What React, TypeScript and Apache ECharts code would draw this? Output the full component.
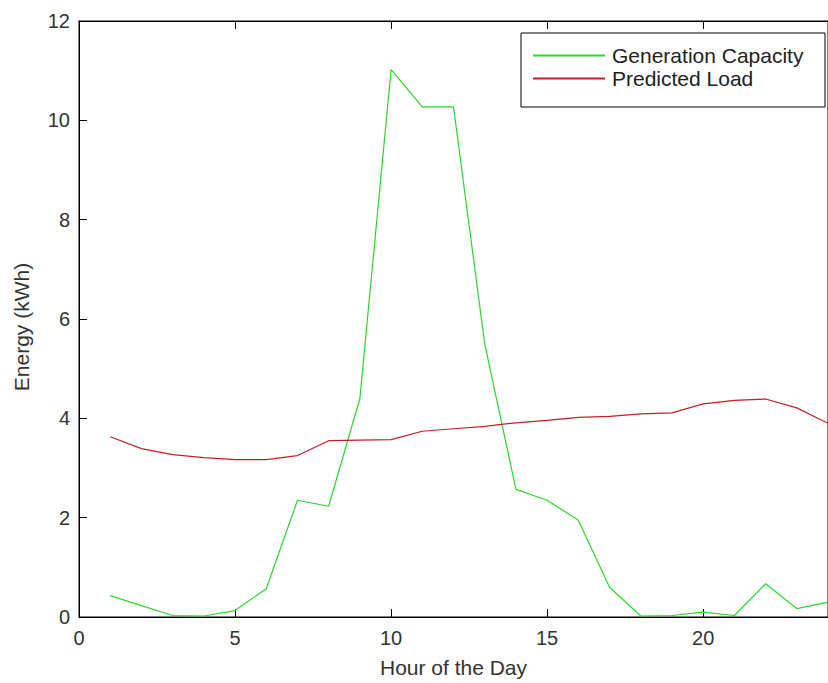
import React, { useEffect, useRef } from "react";
import * as echarts from "echarts";

const hours = [1, 2, 3, 4, 5, 6, 7, 8, 9, 10, 11, 12, 13, 14, 15, 16, 17, 18, 19, 20, 21, 22, 23, 24];
const generationCapacity = [0.43, 0.23, 0.03, 0.02, 0.13, 0.57, 2.35, 2.23, 4.4, 11.02, 10.27, 10.27, 5.5, 2.57, 2.35, 1.95, 0.6, 0.02, 0.03, 0.1, 0.03, 0.67, 0.17, 0.3];
const predictedLoad = [3.63, 3.39, 3.27, 3.21, 3.17, 3.17, 3.25, 3.55, 3.56, 3.57, 3.74, 3.79, 3.84, 3.91, 3.96, 4.02, 4.04, 4.09, 4.11, 4.29, 4.36, 4.39, 4.21, 3.9];
const seriesNames = ["Generation Capacity", "Predicted Load"];
const seriesColors = ["#2fd52f", "#c21f2a"];
const xTitle = "Hour of the Day";
const yTitle = "Energy (kWh)";

const FONT = "'Liberation Sans', Arial, sans-serif";

export default function App() {
  const ref = useRef<HTMLDivElement>(null);
  useEffect(() => {
    if (!ref.current) return;
    const chart = echarts.init(ref.current, null, { renderer: "svg" });
    const axisLine = { show: true, lineStyle: { color: "#000", width: 1 } };
    chart.setOption({
      animation: false,
      backgroundColor: "#fff",
      grid: {
        left: 79,
        top: 21,
        width: 758,
        height: 597,
        show: true,
        borderColor: "#000",
        borderWidth: 1,
        backgroundColor: "transparent",
      },
      graphic: [
        {
          type: "rect",
          shape: { x: 521, y: 33, width: 304, height: 74 },
          style: { fill: "#fff", stroke: "#000", lineWidth: 1 },
          z: 50,
        },
      ],
      legend: {
        orient: "vertical",
        left: 521,
        top: 33,
        padding: [12, 4, 19, 12],
        itemGap: 2,
        itemWidth: 72,
        itemHeight: 2,
        icon: "rect",
        z: 60,
        textStyle: { fontFamily: FONT, fontSize: 21, color: "#222", lineHeight: 20, padding: [0, 0, 0, 2] },
        data: seriesNames,
      },
      xAxis: [
        {
          type: "value",
          min: 0,
          max: 24,
          interval: 5,
          position: "bottom",
          axisLine,
          axisTick: { show: true, inside: true, length: 8, lineStyle: { color: "#000" } },
          axisLabel: { fontFamily: FONT, fontSize: 20, color: "#333", margin: 11, showMaxLabel: false },
          splitLine: { show: false },
          name: xTitle,
          nameLocation: "middle",
          nameGap: 40,
          nameTextStyle: { fontFamily: FONT, fontSize: 21, color: "#333" },
        },
        {
          type: "value",
          min: 0,
          max: 24,
          interval: 5,
          position: "top",
          axisLine,
          axisTick: { show: true, inside: true, length: 8, lineStyle: { color: "#000" } },
          axisLabel: { show: false },
          splitLine: { show: false },
        },
      ],
      yAxis: {
        type: "value",
        min: 0,
        max: 12,
        interval: 2,
        axisLine,
        axisTick: { show: true, inside: true, length: 8, lineStyle: { color: "#000" } },
        axisLabel: { fontFamily: FONT, fontSize: 20, color: "#333", margin: 9 },
        splitLine: { show: false },
        name: yTitle,
        nameLocation: "middle",
        nameGap: 47,
        nameTextStyle: { fontFamily: FONT, fontSize: 21, color: "#333", padding: [0, 16, 0, 0] },
      },
      series: [
        {
          name: seriesNames[0],
          type: "line",
          data: hours.map((h, i) => [h, generationCapacity[i]]),
          showSymbol: false,
          symbol: "none",
          lineStyle: { color: seriesColors[0], width: 1.2 },
          itemStyle: { color: seriesColors[0] },
        },
        {
          name: seriesNames[1],
          type: "line",
          data: hours.map((h, i) => [h, predictedLoad[i]]),
          showSymbol: false,
          symbol: "none",
          lineStyle: { color: seriesColors[1], width: 1.2 },
          itemStyle: { color: seriesColors[1] },
        },
      ],
    });
    return () => chart.dispose();
  }, []);
  return <div ref={ref} style={{ position: "absolute", left: 0, top: 0, width: 828, height: 683 }} />;
}
